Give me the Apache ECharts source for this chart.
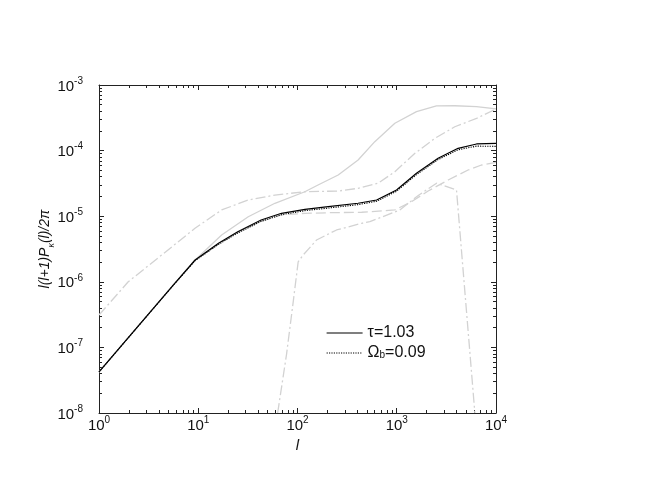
<!DOCTYPE html>
<html><head><meta charset="utf-8">
<script src="https://cdn.jsdelivr.net/npm/echarts@6/dist/echarts.min.js"></script>
<style>html,body{margin:0;padding:0;background:#fff}#c{width:645px;height:498px}</style>
</head><body><div id="c"></div>
<script>
// ---- tick values ----
const xMajorTicks = [1, 10, 100, 1000, 10000];
const yMajorTicks = [1e-8, 1e-7, 1e-6, 1e-5, 1e-4, 1e-3];
const xMinorTicks = [2,3,4,5,6,7,8,9, 20,30,40,50,60,70,80,90, 200,300,400,500,600,700,800,900, 2000,3000,4000,5000,6000,7000,8000,9000];
const yMinorTicks = [2e-8,3e-8,4e-8,5e-8,6e-8,7e-8,8e-8,9e-8, 2e-7,3e-7,4e-7,5e-7,6e-7,7e-7,8e-7,9e-7,
  2e-6,3e-6,4e-6,5e-6,6e-6,7e-6,8e-6,9e-6, 2e-5,3e-5,4e-5,5e-5,6e-5,7e-5,8e-5,9e-5, 2e-4,3e-4,4e-4,5e-4,6e-4,7e-4,8e-4,9e-4];

// ---- series data ----
// black solid: tau = 1.03
const tauL = [1, 5.6, 9.3, 16, 25, 43, 69, 119, 204, 408, 627, 995, 1580, 2610, 4150, 6370, 10000];
const tauV = [4.22e-8, 8.93e-7, 2.15e-6, 3.86e-6, 5.81e-6, 8.75e-6, 1.107e-5, 1.274e-5, 1.396e-5, 1.574e-5, 1.766e-5, 2.506e-5, 4.51e-5, 7.64e-5, 1.084e-4, 1.262e-4, 1.291e-4];
// black dotted: Omega_b = 0.09
const omL = [1, 5.6, 9.3, 16, 25, 43, 69, 119, 204, 408, 627, 995, 1580, 2610, 4150, 6370, 10000];
const omV = [4.22e-8, 8.85e-7, 2.1e-6, 3.72e-6, 5.55e-6, 8.35e-6, 1.055e-5, 1.215e-5, 1.33e-5, 1.5e-5, 1.69e-5, 2.4e-5, 4.3e-5, 7.3e-5, 1.03e-4, 1.17e-4, 1.16e-4];
// light grey solid
const gsL = [1, 5.6, 9.3, 17.2, 31.9, 59.2, 118.6, 161, 257, 408, 601, 957, 1581, 2512, 3846, 6368, 10000];
const gsV = [4.22e-8, 8.93e-7, 2.15e-6, 5.16e-6, 9.82e-6, 1.574e-5, 2.36e-5, 2.99e-5, 4.25e-5, 7.19e-5, 1.368e-4, 2.61e-4, 3.92e-4, 4.79e-4, 4.83e-4, 4.67e-4, 4.31e-4];
// light grey dash-dot (upper)
const gdL = [1, 1.97, 4.28, 9.27, 17.2, 31.9, 59.2, 118.6, 257, 408, 650, 957, 1524, 2421, 3846, 6368, 10000];
const gdV = [3.12e-7, 1.0e-6, 2.56e-6, 6.55e-6, 1.245e-5, 1.766e-5, 2.10e-5, 2.36e-5, 2.42e-5, 2.66e-5, 3.18e-5, 4.76e-5, 9.1e-5, 1.538e-4, 2.31e-4, 3.10e-4, 4.31e-4];
// light grey long dash
const glL = [1, 5.6, 9.3, 16, 25, 43, 69, 119, 204, 443, 957, 1409, 2070, 3296, 5236, 7145, 10000];
const glV = [4.22e-8, 8.93e-7, 2.15e-6, 3.80e-6, 5.62e-6, 8.32e-6, 1.047e-5, 1.107e-5, 1.13e-5, 1.148e-5, 1.245e-5, 1.663e-5, 2.42e-5, 3.56e-5, 5.06e-5, 6.03e-5, 6.64e-5];
// light grey dash-dot (lower, peaked)
const gpL = [63.1, 77.6, 90.6, 101.6, 114, 155.6, 247.7, 443, 536, 1074, 1660, 2518, 4000, 6124];
const gpV = [1e-8, 7.9e-8, 5.0e-7, 2.02e-6, 2.56e-6, 4.34e-6, 6.17e-6, 7.8e-6, 8.24e-6, 1.245e-5, 2.09e-5, 3.18e-5, 2.51e-5, 1e-8];

const F = '"Liberation Sans", Arial, Helvetica, sans-serif';
const AX = '#222';
const GREY = '#d2d2d2';

function pairs(a, b) { return a.map((v, i) => [v, b[i]]); }
function expLabel(v) { return '{b|10}{s|' + Math.round(Math.log10(v)) + '}'; }
const labelRich = {
  b: { fontSize: 15, fontFamily: F, color: '#111', lineHeight: 18, verticalAlign: 'bottom' },
  s: { fontSize: 10, fontFamily: F, color: '#111', lineHeight: 11, verticalAlign: 'top' }
};

function xAxis(pos, showLabel, ticks, len, showLine) {
  return {
    type: 'log', logBase: 10, min: 1, max: 10000, position: pos,
    axisLine: { show: showLine, onZero: false, lineStyle: { color: AX, width: 1 } },
    axisTick: { show: true, inside: true, length: len, customValues: ticks, lineStyle: { color: AX, width: 1 } },
    axisLabel: { show: showLabel, customValues: xMajorTicks, margin: 2, formatter: expLabel, rich: labelRich },
    splitLine: { show: false }, minorTick: { show: false }
  };
}
function yAxis(pos, showLabel, ticks, len, showLine) {
  return {
    type: 'log', logBase: 10, min: 1e-8, max: 1e-3, position: pos,
    axisLine: { show: showLine, onZero: false, lineStyle: { color: AX, width: 1 } },
    axisTick: { show: true, inside: true, length: len, customValues: ticks, lineStyle: { color: AX, width: 1 } },
    axisLabel: { show: showLabel, customValues: yMajorTicks, margin: 16, formatter: expLabel, rich: labelRich },
    splitLine: { show: false }, minorTick: { show: false }
  };
}

const xAxes = [
  xAxis('bottom', true, xMajorTicks, 5, true),
  xAxis('bottom', false, xMinorTicks, 3, false),
  xAxis('top', false, xMajorTicks, 5, true),
  xAxis('top', false, xMinorTicks, 3, false)
];
xAxes[0].name = 'l';
xAxes[0].nameLocation = 'middle';
xAxes[0].nameGap = 25;
xAxes[0].nameMoveOverlap = false;
xAxes[0].nameTextStyle = { fontSize: 15, fontStyle: 'italic', fontFamily: F, color: '#111' };

const yAxes = [
  yAxis('left', true, yMajorTicks, 5, true),
  yAxis('left', false, yMinorTicks, 3, false),
  yAxis('right', false, yMajorTicks, 5, true),
  yAxis('right', false, yMinorTicks, 3, false)
];
yAxes[0].name = '{i|l(l+1)P}{k|κ}{i|(l)/2π}';
yAxes[0].nameLocation = 'middle';
yAxes[0].nameRotate = 90;
yAxes[0].nameGap = 43;
yAxes[0].nameMoveOverlap = false;
yAxes[0].nameTextStyle = {
  rich: {
    i: { fontSize: 14, fontStyle: 'italic', fontFamily: F, color: '#111', lineHeight: 18, verticalAlign: 'top' },
    k: { fontSize: 9, fontStyle: 'italic', fontFamily: F, color: '#111', lineHeight: 18, verticalAlign: 'bottom' }
  }
};

function ser(name, l, v, color, width, type, z) {
  return {
    name: name, type: 'line', data: pairs(l, v), xAxisIndex: 0, yAxisIndex: 0,
    symbol: 'none', showSymbol: false, clip: true, z: z,
    lineStyle: { color: color, width: width, type: type }, itemStyle: { color: color }
  };
}

const option = {
  animation: false,
  backgroundColor: '#fff',
  grid: { left: 99, right: 149, top: 85, bottom: 85 },
  xAxis: xAxes,
  yAxis: yAxes,
  legend: {
    data: ['tau', 'omega'],
    itemStyle: { opacity: 0 },
    lineStyle: { width: 1.2 },
    orient: 'vertical', left: 326, top: 325,
    itemWidth: 36, itemHeight: 15, itemGap: 4, padding: 0,
    formatter: n => n === 'tau' ? '{t|τ=1.03}' : '{t|Ω}{u|b}{t|=0.09}',
    textStyle: {
      rich: {
        t: { fontSize: 16, fontFamily: F, color: '#111', lineHeight: 15, verticalAlign: 'middle' },
        u: { fontSize: 10, fontFamily: F, color: '#111', lineHeight: 15, verticalAlign: 'bottom' }
      }
    }
  },
  series: [
    ser('gs', gsL, gsV, GREY, 1.3, 'solid', 2),
    ser('gd', gdL, gdV, GREY, 1.3, [10, 3, 2, 3], 2),
    ser('gl', glL, glV, GREY, 1.3, [10, 4], 2),
    ser('gp', gpL, gpV, GREY, 1.3, [10, 3, 2, 3], 2),
    ser('omega', omL, omV, '#000', 1.1, [1.2, 1.2], 3),
    ser('tau', tauL, tauV, '#000', 1.2, 'solid', 4)
  ]
};
const chart = echarts.init(document.getElementById('c'), null, { renderer: 'canvas' });
chart.setOption(option);
</script>
</body></html>
